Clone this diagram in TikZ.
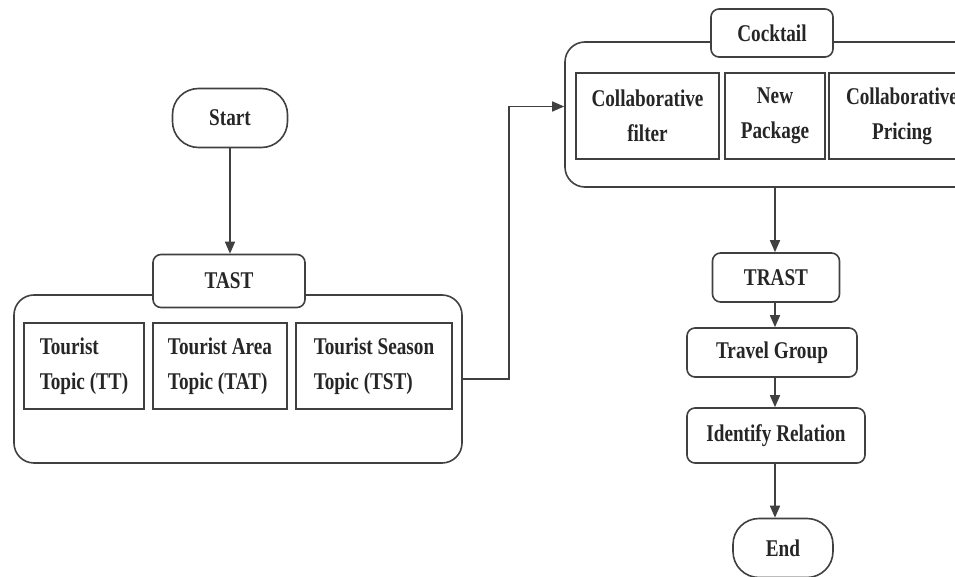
\documentclass[tikz,border=0pt]{standalone}
\usepackage{fontspec}
\setmainfont{Liberation Serif}[FakeStretch=0.8]
\usetikzlibrary{arrows.meta}

\tikzset{
  every node/.style={font=\bfseries\fontsize{12}{17.5}\selectfont, text=black!85},
  ln/.style={draw=black!75, line width=0.8pt},
  term/.style={ln, rounded corners=13pt, minimum width=50pt, minimum height=29.5pt},
  grp/.style={ln, rounded corners=10pt, inner sep=0pt},
  lbl/.style={ln, fill=white, rounded corners=4pt, minimum height=24.5pt},
  topic/.style={ln, line width=0.9pt, inner sep=0pt, minimum height=43pt},
  arr/.style={ln, -{Triangle[length=6pt,width=5pt]}}
}

\begin{document}
\begin{tikzpicture}[x=0.5pt,y=-0.5pt]
\useasboundingbox (0,0) rectangle (955,577);
\clip (0,0) rectangle (955,577);

\node[term, minimum width=57.5pt] (start) at (230,118) {Start};

\node[grp, minimum width=224pt, minimum height=84pt] (tastbox) at (238,379) {};
\node[lbl, minimum width=76pt, minimum height=26.5pt] (tast) at (229,281) {TAST};
\node[topic, align=left, minimum width=60pt] (tt) at (84,366) {Tourist\\Topic (TT)};
\node[topic, align=left, minimum width=67pt] (tat) at (220,366) {Tourist Area\\Topic (TAT)};
\node[topic, align=left, minimum width=78pt] (tst) at (374,366) {Tourist Season\\Topic (TST)};

\node[grp, minimum width=210pt, minimum height=72.5pt] (cocktailbox) at (775,114.5) {};
\node[lbl, minimum width=61pt, minimum height=24pt] (cocktail) at (772,33) {Cocktail};
\node[topic, align=center, minimum width=71.5pt] (cf) at (647.5,116) {Collaborative\\filter};
\node[topic, align=center, minimum width=50pt] (np) at (775,116) {New\\Package};
\node[topic, align=center, minimum width=73pt] (cp) at (902,116) {Collaborative\\Pricing};

\node[lbl, minimum width=63.5pt] (trast) at (776,277.5) {TRAST};
\node[lbl, minimum width=85pt] (group) at (772,352.5) {Travel Group};
\node[lbl, minimum width=89pt, minimum height=27.5pt] (relation) at (776,435.5) {Identify Relation};
\node[term] (end) at (783,548) {End};

\draw[arr] (start.south) -- (start.south |- tast.north);
\draw[arr] (tastbox.east) -- ++(46,0) |- ([yshift=4pt]cocktailbox.west);
\draw[arr] (cocktailbox.south) -- (cocktailbox.south |- trast.north);
\draw[arr] (cocktailbox.south |- trast.south) -- (cocktailbox.south |- group.north);
\draw[arr] (cocktailbox.south |- group.south) -- (cocktailbox.south |- relation.north);
\draw[arr] (cocktailbox.south |- relation.south) -- (cocktailbox.south |- end.north);
\end{tikzpicture}
\end{document}
